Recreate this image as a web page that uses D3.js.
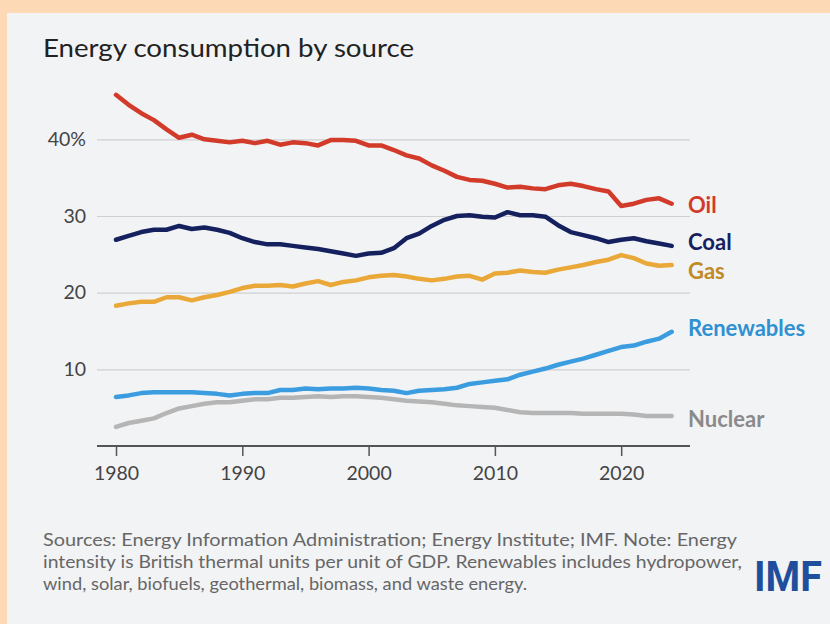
<!DOCTYPE html>
<html>
<head>
<meta charset="utf-8">
<script src="https://cdn.jsdelivr.net/npm/d3@7"></script>
<style>
  html, body { margin: 0; padding: 0; background: #fed9b6; }
  svg { display: block; }
</style>
</head>
<body>
<svg id="chart" width="830" height="624"></svg>
<script>
// Share of energy consumption by source, percent, 1980–2024
const years = d3.range(1980, 2025);

const oil = [45.8, 44.5, 43.4, 42.5, 41.3, 40.2, 40.6, 40.0, 39.8, 39.6,
             39.8, 39.5, 39.8, 39.3, 39.6, 39.5, 39.2, 39.9, 39.9, 39.8,
             39.2, 39.2, 38.6, 37.9, 37.5, 36.6, 35.9, 35.1, 34.7, 34.6,
             34.2, 33.7, 33.8, 33.6, 33.5, 34.0, 34.2, 33.9, 33.5, 33.2,
             31.3, 31.6, 32.1, 32.3, 31.6];
const coal = [26.9, 27.4, 27.9, 28.2, 28.2, 28.7, 28.3, 28.5, 28.2, 27.8,
              27.1, 26.6, 26.3, 26.3, 26.1, 25.9, 25.7, 25.4, 25.1, 24.8,
              25.1, 25.2, 25.8, 27.1, 27.7, 28.7, 29.5, 30.0, 30.1, 29.9,
              29.8, 30.5, 30.1, 30.1, 29.9, 28.8, 27.9, 27.5, 27.1, 26.6,
              26.9, 27.1, 26.7, 26.4, 26.1];
const gas = [18.3, 18.6, 18.8, 18.8, 19.4, 19.4, 19.0, 19.4, 19.7, 20.1,
             20.6, 20.9, 20.9, 21.0, 20.8, 21.2, 21.5, 21.0, 21.4, 21.6,
             22.0, 22.2, 22.3, 22.1, 21.8, 21.6, 21.8, 22.1, 22.2, 21.7,
             22.5, 22.6, 22.9, 22.7, 22.6, 23.0, 23.3, 23.6, 24.0, 24.3,
             24.9, 24.5, 23.8, 23.5, 23.6];
const renewables = [6.4, 6.6, 6.9, 7.0, 7.0, 7.0, 7.0, 6.9, 6.8, 6.6,
                    6.8, 6.9, 6.9, 7.3, 7.3, 7.5, 7.4, 7.5, 7.5, 7.6,
                    7.5, 7.3, 7.2, 6.9, 7.2, 7.3, 7.4, 7.6, 8.1, 8.3,
                    8.5, 8.7, 9.3, 9.7, 10.1, 10.6, 11.0, 11.4, 11.9, 12.4,
                    12.9, 13.1, 13.6, 14.0, 14.9];
const nuclear = [2.5, 3.0, 3.3, 3.6, 4.3, 4.9, 5.2, 5.5, 5.7, 5.7,
                 5.9, 6.1, 6.1, 6.3, 6.3, 6.4, 6.5, 6.4, 6.5, 6.5,
                 6.4, 6.3, 6.1, 5.9, 5.8, 5.7, 5.5, 5.3, 5.2, 5.1,
                 5.0, 4.7, 4.4, 4.3, 4.3, 4.3, 4.3, 4.2, 4.2, 4.2,
                 4.2, 4.1, 3.9, 3.9, 3.9];

const seriesNames = ["Oil", "Coal", "Gas", "Renewables", "Nuclear"];
const seriesValues = [oil, coal, gas, renewables, nuclear];

const yTicks = [10, 20, 30, 40];
const yTickLabels = ["10", "20", "30", "40%"];
const xTicks = [1980, 1990, 2000, 2010, 2020];

const footnote = [
  "Sources: Energy Information Administration; Energy Institute; IMF. Note: Energy",
  "intensity is British thermal units per unit of GDP. Renewables includes hydropower,",
  "wind, solar, biofuels, geothermal, biomass, and waste energy."
];

// Styling per series
const lineColor = { Oil: "#d23a2a", Coal: "#15215f", Gas: "#eaa838", Renewables: "#3b9de0", Nuclear: "#b5b5b5" };
const labelColor = { Oil: "#d23a2a", Coal: "#15215f", Gas: "#c08a25", Renewables: "#2f90d2", Nuclear: "#8a8a8a" };
const labelShift = { Oil: 9, Coal: 4, Gas: 14, Renewables: 4, Nuclear: 11 };
const footnoteWidth = [694, 699, 484];

const svg = d3.select("#chart");
const font = "Lato, 'Open Sans', sans-serif";

// Panel
svg.append("rect").attr("x", 7).attr("y", 13).attr("width", 823).attr("height", 611).attr("fill", "#f2f3f5");

// Title
svg.append("text")
  .attr("x", 43).attr("y", 57)
  .attr("font-family", font).attr("font-size", 25).attr("fill", "#222")
  .attr("textLength", 371).attr("lengthAdjust", "spacingAndGlyphs")
  .text("Energy consumption by source");

const x = d3.scaleLinear().domain([1980, 2024]).range([116, 671.7]);
const y = d3.scaleLinear().domain([0, 40]).range([446, 139.3]);

const plotLeft = 97, plotRight = 690;

// Gridlines and y labels
const yAxis = d3.axisLeft(y).tickValues(yTicks).tickSize(-(plotRight - plotLeft)).tickPadding(11)
  .tickFormat((d, i) => yTickLabels[i]);
const gy = svg.append("g").attr("transform", `translate(${plotLeft},0)`).call(yAxis);
gy.select(".domain").remove();
gy.selectAll(".tick line").attr("stroke", "#cfd0d2").attr("stroke-width", 1.2);
gy.selectAll(".tick text").attr("font-family", font).attr("font-size", 19.5).attr("fill", "#444");

// X axis
const xAxis = d3.axisBottom(x).tickValues(xTicks).tickSize(10).tickPadding(10).tickFormat(d3.format("d"));
const gx = svg.append("g").attr("transform", "translate(0,446)").call(xAxis);
gx.select(".domain").attr("d", `M${plotLeft},0H${plotRight}`).attr("stroke", "#555").attr("stroke-width", 2);
gx.selectAll(".tick line").attr("stroke", "#555").attr("stroke-width", 1.5);
gx.selectAll(".tick text").attr("font-family", font).attr("font-size", 19.5).attr("fill", "#444");

// Lines
const line = d3.line().x((d, i) => x(years[i])).y(d => y(d)).curve(d3.curveLinear);
const draw = seriesNames.map((n, i) => ({ name: n, values: seriesValues[i] }));
svg.append("g").selectAll("path")
  .data(draw.slice().reverse())
  .join("path")
  .attr("d", d => line(d.values))
  .attr("fill", "none")
  .attr("stroke", d => lineColor[d.name])
  .attr("stroke-width", 4.5)
  .attr("stroke-linejoin", "round")
  .attr("stroke-linecap", "round");

// Series labels at the line ends
svg.append("g").selectAll("text")
  .data(draw)
  .join("text")
  .attr("x", 688)
  .attr("y", d => y(d.values[d.values.length - 1]) + labelShift[d.name])
  .attr("font-family", font).attr("font-weight", 700).attr("font-size", 22)
  .attr("fill", d => labelColor[d.name])
  .text(d => d.name);

// Footnote
svg.append("g").selectAll("text")
  .data(footnote)
  .join("text")
  .attr("x", 43)
  .attr("y", (d, i) => 546 + i * 22)
  .attr("font-family", font).attr("font-size", 17).attr("fill", "#666")
  .attr("textLength", (d, i) => footnoteWidth[i]).attr("lengthAdjust", "spacingAndGlyphs")
  .text(d => d);

// Logo
svg.append("text")
  .attr("x", 754).attr("y", 591)
  .attr("font-family", "'Roboto', sans-serif").attr("font-weight", 700).attr("font-size", 43)
  .attr("fill", "#1f4f9c")
  .attr("textLength", 68).attr("lengthAdjust", "spacingAndGlyphs")
  .text("IMF");
</script>
</body>
</html>
